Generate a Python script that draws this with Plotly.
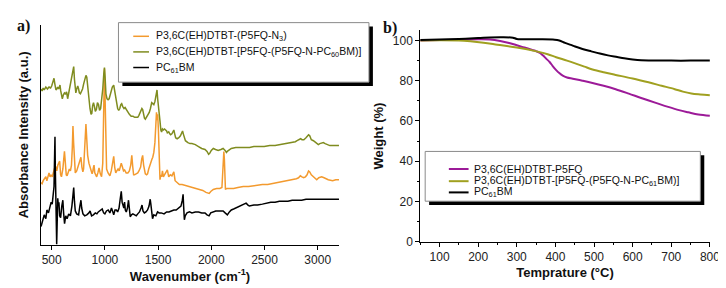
import plotly.graph_objects as go

W, H = 726, 288

# ---------------- Panel a: IR spectra ----------------
pcbm_wn = [400,415,430,445,455,470,482,495,505,515,522,528,531,534,538,542,547,551,557,563,568,575,584,595,605,612,621,632,645,660,676,690,700,707,714,722,735,753,765,775,782,794,810,830,850,861,875,892,910,925,938,955,975,988,1000,1015,1031,1047,1062,1075,1083,1095,1108,1120,1133,1145,1154,1162,1170,1178,1185,1192,1201,1212,1222,1230,1238,1250,1263,1280,1295,1309,1325,1340,1349,1358,1371,1386,1401,1415,1426,1432,1440,1448,1460,1479,1495,1510,1530,1556,1580,1602,1625,1648,1670,1695,1715,1728,1735,1740,1747,1755,1772,1795,1818,1850,1880,1910,1941,1960,1979,1995,2019,2042,2065,2090,2111,2130,2151,2170,2188,2210,2250,2280,2310,2327,2345,2358,2400,2435,2480,2520,2559,2600,2640,2682,2720,2760,2806,2850,2890,2929,2970,3010,3053,3100,3150,3200]
pcbm_ir = [19,25,31,27,36,33,40,44,42,52,60,95,111,80,40,15,1,20,48,40,44,30,28,40,46,33,22,30,27,32,30,40,52,59,45,35,32,31,40,46,38,32,30,31,33,35,30,31,33,32,34,35,37,33,32,35,36,33,38,34,31,36,36,34,38,48,55,44,40,38,44,36,34,38,46,36,29,31,32,31,30,32,34,38,41,35,33,34,36,40,47,42,30,27,31,30,34,33,33,32,34,34,35,36,36,38,40,46,52,40,26,30,33,34,33,34,34,33,33,31,30,33,34,35,35,35,35,33,31,34,36,37,39,40,42,43,41,40,41,41,42,43,44,44,45,45,45,46,46,46,47,47,47,47,47,47,47,47]

n3_wn = [400,410,420,433,445,455,465,475,485,495,506,515,525,537,548,558,568,575,584,592,605,612,620,628,637,645,655,666,676,686,694,700,706,714,722,735,745,753,764,775,784,793,800,808,815,822,829,838,850,861,872,880,886,893,898,905,914,923,934,945,957,969,980,990,996,1002,1010,1016,1030,1047,1060,1074,1083,1092,1102,1112,1124,1135,1145,1154,1165,1175,1185,1200,1216,1230,1243,1253,1262,1270,1278,1293,1309,1320,1336,1346,1355,1364,1372,1380,1392,1401,1412,1422,1432,1442,1450,1460,1470,1479,1485,1490,1496,1503,1510,1518,1525,1533,1541,1550,1560,1570,1587,1600,1615,1630,1648,1660,1680,1700,1726,1757,1790,1834,1880,1920,1950,1966,1980,1995,2019,2050,2080,2100,2110,2114,2118,2123,2128,2133,2145,2173,2210,2250,2300,2350,2400,2435,2480,2530,2580,2621,2680,2730,2775,2800,2820,2837,2852,2868,2885,2900,2914,2925,2940,2960,2975,2991,3010,3037,3060,3099,3140,3170,3200]
n3_ir = [64,63,66,68,70,66,72,74,70,72,70,75,78,81,76,82,84,86,72,70,78,88,96,85,72,71,74,78,76,82,100,122,105,78,74,76,80,82,87,90,80,75,78,100,118,124,110,92,84,81,76,73,75,80,82,74,72,70,74,79,73,70,84,150,181,150,100,78,74,71,76,86,91,80,74,76,78,76,80,84,80,76,77,74,74,76,82,92,80,72,72,73,74,76,80,88,92,82,74,73,72,73,78,82,85,88,90,95,105,120,136,128,134,118,100,67,72,70,76,70,72,74,77,70,72,71,75,66,64,62,62,61,60,59,57,56,54,53,53,55,57,58,58,59,75,92,96,88,65,57,58,58,58,59,60,60,61,61,62,62,63,64,65,66,67,68,69,71,70,69,70,72,76,75,72,70,68,67,69,70,69,67,66,67,67]

pcbm_link_wn = [400,410,420,430,445,460,475,490,500,510,516,522,530,540,548,556,566,578,585,592,600,610,620,630,640,650,660,670,680,690,700,707,714,720,727,735,745,753,760,770,780,790,800,810,822,830,840,850,860,870,877,885,893,902,910,920,930,940,950,960,970,980,990,996,1002,1010,1020,1030,1040,1050,1060,1070,1083,1092,1102,1112,1120,1130,1140,1150,1158,1168,1180,1190,1200,1216,1230,1247,1265,1280,1295,1309,1320,1335,1348,1355,1362,1372,1380,1392,1405,1417,1428,1440,1450,1460,1470,1478,1485,1490,1496,1503,1510,1518,1526,1533,1541,1550,1560,1570,1580,1587,1600,1610,1618,1630,1640,1648,1656,1665,1679,1695,1710,1720,1730,1737,1745,1757,1780,1800,1818,1850,1880,1910,1941,1960,1975,1985,2000,2019,2040,2065,2090,2111,2130,2142,2150,2170,2188,2230,2270,2312,2360,2400,2450,2497,2550,2600,2650,2713,2760,2790,2806,2825,2840,2852,2870,2890,2905,2914,2925,2940,2960,2980,3006,3020,3040,3053,3070,3090,3114,3150,3200]
pcbm_link_ir = [160,158,161,159,162,160,162,161,163,166,170,171,165,159,160,162,160,164,158,151,150,154,156,155,157,150,156,160,165,170,180,183,170,160,156,160,163,160,156,155,157,160,165,170,174,172,160,148,140,134,135,143,146,142,137,139,146,144,138,140,148,160,176,182,172,155,150,149,150,155,158,162,164,158,153,145,140,138,140,144,145,142,140,141,139,137,134,132,132,131,131,131,133,137,140,139,133,130,129,131,134,136,140,146,145,144,147,152,158,159,150,140,132,127,118,116,119,118,119,118,117,115,116,114,113,114,116,118,114,110,109,110,112,115,117,114,110,107,105,104,104,103,101,99,98,96,93,94,97,99,98,97,98,99,97,95,96,98,99,100,100,100,100,101,101,101,102,102,103,104,105,106,107,108,109,108,108,110,112,113,112,108,107,105,103,104,105,105,104,103,102,102,102]

ir_ticks = [500, 1000, 1500, 2000, 2500, 3000]

# ---------------- Panel b: TGA ----------------
tga_p5fq_t = [50,100,150,200,230,257,280,300,320,340,351,360,368,376,385,393,402,410,419,430,445,470,496,525,556,590,624,660,692,720,744,770,800]
tga_p5fq_w = [100,100.2,100.4,100.6,100.5,99.8,98.8,97.6,96.5,95.3,94.6,93.8,92.5,91,89.3,87.3,85.3,83.8,82.5,81.6,81,80,78.9,77.5,75.8,73.6,71.3,69,67,65.4,64.3,63.2,62.6]
tga_link_t = [50,100,150,180,214,250,300,351,380,402,430,453,475,496,525,556,600,641,675,709,730,752,775,800]
tga_link_w = [100,100.1,100,99.6,98.9,97.9,96.5,94.6,93.2,91.7,90,88.5,87,85.6,84.2,82.9,81.1,79.2,77.5,75.8,74.6,73.7,73.2,72.8]
tga_pcbm_t = [50,100,150,200,230,260,290,300,350,398,410,425,440,451,470,493,515,536,560,578,600,622,650,700,750,800]
tga_pcbm_w = [100.3,100.5,100.8,101.2,101.5,101.6,101.4,100.8,100.6,100.4,100,98.8,97.8,97.0,95.8,94.6,93.5,92.6,91.8,91.2,90.6,90.2,90.1,90.0,90.0,90.0]
tga_xticks = [100, 200, 300, 400, 500, 600, 700, 800]
tga_yticks = [0, 20, 40, 60, 80, 100]

ORANGE = "#F39A2E"
OLIVE_A = "#7F8C1F"
OLIVE_B = "#A0A020"
MAGENTA = "#9C1A98"

fig = go.Figure()
fig.add_trace(go.Scatter(x=n3_wn, y=n3_ir, mode="lines", line=dict(color=ORANGE, width=1.5),
                         name="P3,6C(EH)DTBT-(P5FQ-N3)", xaxis="x", yaxis="y"))
fig.add_trace(go.Scatter(x=pcbm_link_wn, y=pcbm_link_ir, mode="lines", line=dict(color=OLIVE_A, width=1.5),
                         name="P3,6C(EH)DTBT-[P5FQ-(P5FQ-N-PC60BM)]", xaxis="x", yaxis="y"))
fig.add_trace(go.Scatter(x=pcbm_wn, y=pcbm_ir, mode="lines", line=dict(color="black", width=1.5),
                         name="PC61BM", xaxis="x", yaxis="y"))

fig.add_trace(go.Scatter(x=tga_p5fq_t, y=tga_p5fq_w, mode="lines", line=dict(color=MAGENTA, width=2, shape="spline"),
                         name="P3,6C(EH)DTBT-P5FQ", xaxis="x2", yaxis="y2"))
fig.add_trace(go.Scatter(x=tga_link_t, y=tga_link_w, mode="lines", line=dict(color=OLIVE_B, width=2, shape="spline"),
                         name="P3,6C(EH)DTBT-[P5FQ-(P5FQ-N-PC61BM)]", xaxis="x2", yaxis="y2"))
fig.add_trace(go.Scatter(x=tga_pcbm_t, y=tga_pcbm_w, mode="lines", line=dict(color="black", width=2, shape="spline"),
                         name="PC61BM", xaxis="x2", yaxis="y2"))

def px(x):
    return x / W

def py(y):
    return 1 - y / H

FONT = "Liberation Sans, Arial, sans-serif"
tickfont = dict(family=FONT, size=12, color="#222")
title_font = dict(family=FONT, size=13, color="#111")

fig.update_layout(
    width=W, height=H, margin=dict(l=0, r=0, t=0, b=0),
    paper_bgcolor="white", plot_bgcolor="white", showlegend=False,
    font=dict(family=FONT, color="#111"),
    xaxis=dict(domain=[px(33.5), px(335.6)], anchor="y", range=[400, 3200], tickvals=ir_ticks,
               ticks="outside", ticklen=4, tickcolor="black", showline=True, linecolor="black", linewidth=1,
               showgrid=False, zeroline=False, tickfont=tickfont,
               title=dict(text="<b>Wavenumber (cm<sup>-1</sup>)</b>", font=title_font, standoff=2)),
    yaxis=dict(domain=[py(243), py(17)], anchor="x", range=[0, 226], showticklabels=False, ticks="",
               showline=True, linecolor="black", linewidth=1, showgrid=False, zeroline=False,
               title=dict(text="<b>Absorbance Intensity (a.u.)</b>", font=title_font, standoff=8)),
    xaxis2=dict(domain=[px(418), px(711.7)], anchor="y2", range=[50, 800], tickvals=tga_xticks,
                ticks="outside", ticklen=4, tickcolor="black", showline=True, linecolor="black", linewidth=1,
                showgrid=False, zeroline=False, tickfont=tickfont,
                minor=dict(dtick=50, tick0=50, ticks="outside", ticklen=2, tickcolor="black"),
                title=dict(text="<b>Temprature (°C)</b>", font=title_font, standoff=4)),
    yaxis2=dict(domain=[py(239.5), py(23)], anchor="x2", range=[0, 105], tickvals=tga_yticks,
                ticks="outside", ticklen=4, tickcolor="black", showline=True, linecolor="black", linewidth=1,
                showgrid=False, zeroline=False, tickfont=tickfont,
                minor=dict(dtick=10, tick0=0, ticks="outside", ticklen=2, tickcolor="black"),
                title=dict(text="<b>Weight (%)</b>", font=title_font, standoff=6)),
)

shapes = []
annotations = []

def legend_box(x0, y0, x1, y1, off):
    shapes.append(dict(type="rect", xref="paper", yref="paper", x0=px(x0 + off), x1=px(x1 + off),
                       y0=py(y1 + off), y1=py(y0 + off), fillcolor="black", line=dict(width=0), layer="above"))
    shapes.append(dict(type="rect", xref="paper", yref="paper", x0=px(x0), x1=px(x1),
                       y0=py(y1), y1=py(y0), fillcolor="white", line=dict(color="#8a8a8a", width=1), layer="above"))

def legend_item(lx0, lx1, y, color, text, tx, lw):
    shapes.append(dict(type="line", xref="paper", yref="paper", x0=px(lx0), x1=px(lx1), y0=py(y), y1=py(y),
                       line=dict(color=color, width=lw), layer="above"))
    annotations.append(dict(xref="paper", yref="paper", x=px(tx), y=py(y), text=text, showarrow=False,
                            xanchor="left", yanchor="middle",
                            font=dict(family=FONT, size=10.5, color="#111")))

legend_box(112, 15, 366, 76, 4)
legend_item(127, 143, 29, ORANGE, "P3,6C(EH)DTBT-(P5FQ-N<sub>3</sub>)", 148, 1.5)
legend_item(127, 143, 45, OLIVE_A, "P3,6C(EH)DTBT-[P5FQ-(P5FQ-N-PC<sub>60</sub>BM)]", 148, 1.5)
legend_item(127, 143, 61, "black", "PC<sub>61</sub>BM", 148, 1.5)

legend_box(423, 147, 702, 198, 4)
legend_item(447, 467, 165, MAGENTA, "P3,6C(EH)DTBT-P5FQ", 470, 2)
legend_item(447, 467, 177.5, OLIVE_B, "P3,6C(EH)DTBT-[P5FQ-(P5FQ-N-PC<sub>61</sub>BM)]", 470, 2)
legend_item(447, 467, 189, "black", "PC<sub>61</sub>BM", 470, 2)

annotations += [
    dict(xref="paper", yref="paper", x=px(16), y=py(18), text="<b>a)</b>", showarrow=False,
         xanchor="center", yanchor="middle",
         font=dict(family="Liberation Serif, Times New Roman, serif", size=16, color="#111")),
    dict(xref="paper", yref="paper", x=px(387), y=py(21), text="<b>b)</b>", showarrow=False,
         xanchor="center", yanchor="middle",
         font=dict(family="Liberation Serif, Times New Roman, serif", size=16, color="#111")),
]

fig.update_layout(shapes=shapes, annotations=annotations)
fig.write_html("out.html")
